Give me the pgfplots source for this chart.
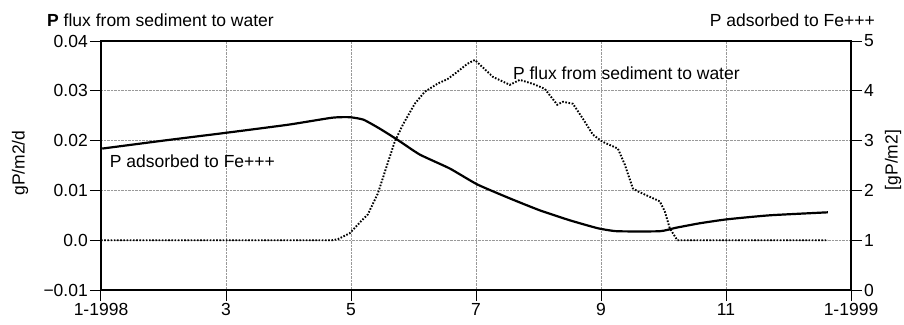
\documentclass[border=0pt]{standalone}
\usepackage{fontspec}
\setmainfont{Liberation Sans}
\usepackage{pgfplots}
\pgfplotsset{compat=1.18}
\begin{document}
\fontsize{17.5}{21}\selectfont
\begin{tikzpicture}
\useasboundingbox (-101pt,-34pt) rectangle (803pt,290pt);
\begin{axis}[
  at={(0pt,0pt)}, anchor=south west,
  scale only axis, width=750pt, height=249pt,
  xmin=0, xmax=12, ymin=-0.01, ymax=0.04,
  xtick={0,2,4,6,8,10,12},
  xticklabels={1-1998,3,5,7,9,11,1-1999},
  ytick={-0.01,0,0.01,0.02,0.03,0.04},
  yticklabels={−0.01,0.0,0.01,0.02,0.03,0.04},
  scaled y ticks=false,
  xtick pos=bottom, ytick pos=left,
  tick align=outside,
  major tick length=11pt,
  tick style={black, line width=1pt},
  axis line style={black, line width=1.1pt},
  grid=major,
  major grid style={gray!80, densely dotted, line width=0.8pt},
  ticklabel style={font=\fontsize{17.5}{21}\selectfont},
  yticklabel style={inner sep=2pt},
  xticklabel style={inner sep=2pt},
  clip=false,
]
\addplot[black, line width=1.9pt, dash pattern=on 1.6pt off 1.6pt] coordinates {
(0,0) (1,0) (2,0) (3,0) (3.70,0) (3.79,0.0002) (3.98,0.0014) (4.19,0.0042)
(4.27,0.0052) (4.43,0.0094) (4.58,0.0152) (4.70,0.0198) (4.83,0.0232)
(5.02,0.0274) (5.18,0.0298) (5.38,0.0314) (5.55,0.0324) (5.70,0.0338)
(5.86,0.0354) (5.98,0.0362) (6.10,0.0348) (6.27,0.0328) (6.54,0.0312)
(6.70,0.0322) (6.91,0.0314) (7.10,0.0304) (7.30,0.0272) (7.39,0.0278)
(7.55,0.0274) (7.71,0.0244) (7.87,0.0212) (8.02,0.0198) (8.27,0.0184)
(8.38,0.0152) (8.51,0.0104) (8.59,0.0098) (8.94,0.0078) (9.02,0.0058)
(9.10,0.0024) (9.22,0.0) (10,0) (11,0) (11.63,0)
};
\node[anchor=west, inner sep=0pt] at (axis cs:0.14,0.0158) {P adsorbed to Fe+++};
\node[anchor=west, inner sep=0pt] at (axis cs:6.59,0.0336) {P flux from sediment to water};
\end{axis}
\begin{axis}[
  at={(0pt,0pt)}, anchor=south west,
  scale only axis, width=750pt, height=249pt,
  xmin=0, xmax=12, ymin=0, ymax=5,
  axis x line=none,
  axis y line*=right,
  ytick={0,1,2,3,4,5},
  tick align=outside,
  major tick length=11pt,
  tick style={black, line width=1pt},
  axis line style={black, line width=1.1pt},
  ticklabel style={font=\fontsize{17.5}{21}\selectfont},
  yticklabel style={inner sep=2pt},
  /pgf/number format/assume math mode=true,
  clip=false,
]
\addplot[black, line width=2.2pt, smooth, tension=0.3] coordinates {
(0.02,2.84) (1,3.00) (2.02,3.16) (3,3.32) (3.70,3.46) (3.98,3.47) (4.20,3.42)
(4.46,3.24) (4.74,3.02) (5.10,2.72) (5.58,2.44) (6.02,2.12) (6.54,1.84)
(7.02,1.60) (7.50,1.40) (7.95,1.24) (8.26,1.18) (8.94,1.18)
(9.20,1.25) (9.58,1.34) (10.02,1.42) (10.70,1.50) (11.63,1.56)
};
\end{axis}
\node[anchor=west, inner sep=0pt] at (-54pt,270pt) {\textbf{P} flux from sediment to water};
\node[anchor=east, inner sep=0pt] at (774pt,270pt) {P adsorbed to Fe+++};
\node[rotate=90, inner sep=0pt] at (-81pt,127pt) {gP/m2/d};
\node[rotate=90, inner sep=0pt] at (792pt,130pt) {[gP/m2]};
\end{tikzpicture}
\end{document}
